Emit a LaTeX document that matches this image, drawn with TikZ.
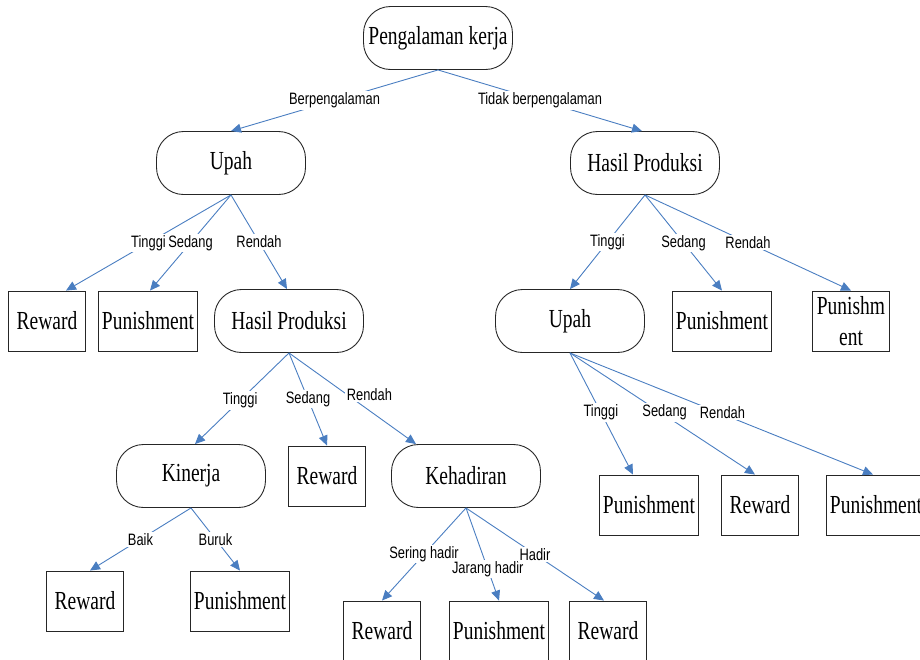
\documentclass[tikz,border=0pt]{standalone}
\usepackage{fontspec}
\newfontfamily\boxfont{Liberation Serif}[FakeStretch=0.75]
\newfontfamily\choicefont{Liberation Sans}[FakeStretch=0.78]
\usetikzlibrary{arrows.meta}
\definecolor{linkblue}{RGB}{74,126,193}

\begin{document}
\begin{tikzpicture}[x=1pt, y=-1pt,
    decision/.style={draw=black!85, line width=0.9pt, rounded corners=27pt, minimum width=149pt, minimum height=63pt, inner sep=0pt, font=\boxfont\fontsize{26}{31}\selectfont},
    leaf/.style={draw=black!85, line width=0.9pt, minimum width=77pt, minimum height=60pt, inner sep=0pt, font=\boxfont\fontsize{26}{31}\selectfont},
    wideleaf/.style={leaf, minimum width=99pt},
    choice/.style={fill=white, text=black, inner sep=1.5pt, font=\choicefont\fontsize{16.5}{18}\selectfont},
    branch/.style={color=linkblue, line width=0.9pt, -{Triangle[length=10pt,width=9pt]}}]
        \useasboundingbox (0,0) rectangle (920,659);

        \node[decision] (root) at (438,38) {Pengalaman kerja};
        \node[decision] (upahA) at (231,163) {Upah};
        \node[decision] (hasilA) at (645,163) {Hasil Produksi};
        \node[leaf] (rewA) at (47,321) {Reward};
        \node[wideleaf] (punA) at (148,321) {Punishment};
        \node[decision] (hasilB) at (289,321) {Hasil Produksi};
        \node[decision] (upahB) at (570,321) {Upah};
        \node[wideleaf] (punB) at (722,321) {Punishment};
        \node[leaf, align=center] (punC) at (851,321) {Punishm\\ent};
        \node[decision] (kinerja) at (191,476) {Kinerja};
        \node[leaf] (rewB) at (327,476) {Reward};
        \node[decision] (kehad) at (466,476) {Kehadiran};
        \node[wideleaf] (punD) at (649,505) {Punishment};
        \node[leaf] (rewC) at (760,505) {Reward};
        \node[wideleaf] (punE) at (876,505) {Punishment};
        \node[leaf] (rewD) at (85,601) {Reward};
        \node[wideleaf] (punF) at (240,601) {Punishment};
        \node[leaf] (rewE) at (382,631) {Reward};
        \node[wideleaf] (punG) at (499,631) {Punishment};
        \node[leaf] (rewF) at (608,631) {Reward};

        \path[branch]
        (root.south) edge node[choice] {Berpengalaman} (upahA.north)
            edge node[choice] {Tidak berpengalaman} ([xshift=-3pt]hasilA.north)
        (upahA.south) edge node[choice] {Tinggi} ([xshift=19pt]rewA.north)
            edge node[choice] {Sedang} ([xshift=2pt]punA.north)
            edge node[choice] {Rendah} ([xshift=-2pt]hasilB.north)
        (hasilA.south) edge node[choice] {Tinggi} (upahB.north)
            edge node[choice] {Sedang} (punB.north)
            edge node[choice] {Rendah} (punC.north)
        (hasilB.south) edge node[choice, pos=.52] {Tinggi} ([xshift=4pt]kinerja.north)
            edge node[choice] {Sedang} (rewB.north)
            edge node[choice, pos=.46, xshift=22pt] {Rendah} ([xshift=-50pt]kehad.north)
        (upahB.south) edge node[choice, pos=.49] {Tinggi} ([xshift=-16pt]punD.north)
            edge node[choice, pos=.49, xshift=4pt] {Sedang} ([xshift=-5pt]rewC.north)
            edge node[choice, pos=.49, xshift=4pt] {Rendah} ([xshift=-3pt]punE.north)
        (kinerja.south) edge node[choice] {Baik} ([xshift=5pt]rewD.north)
            edge node[choice] {Buruk} (punF.north)
        (kehad.south) edge node[choice] {Sering hadir} (rewE.north)
            edge node[choice, pos=.66] {Jarang hadir} (punG.north)
            edge node[choice] {Hadir} ([xshift=-4pt]rewF.north);
    \end{tikzpicture}
\end{document}
